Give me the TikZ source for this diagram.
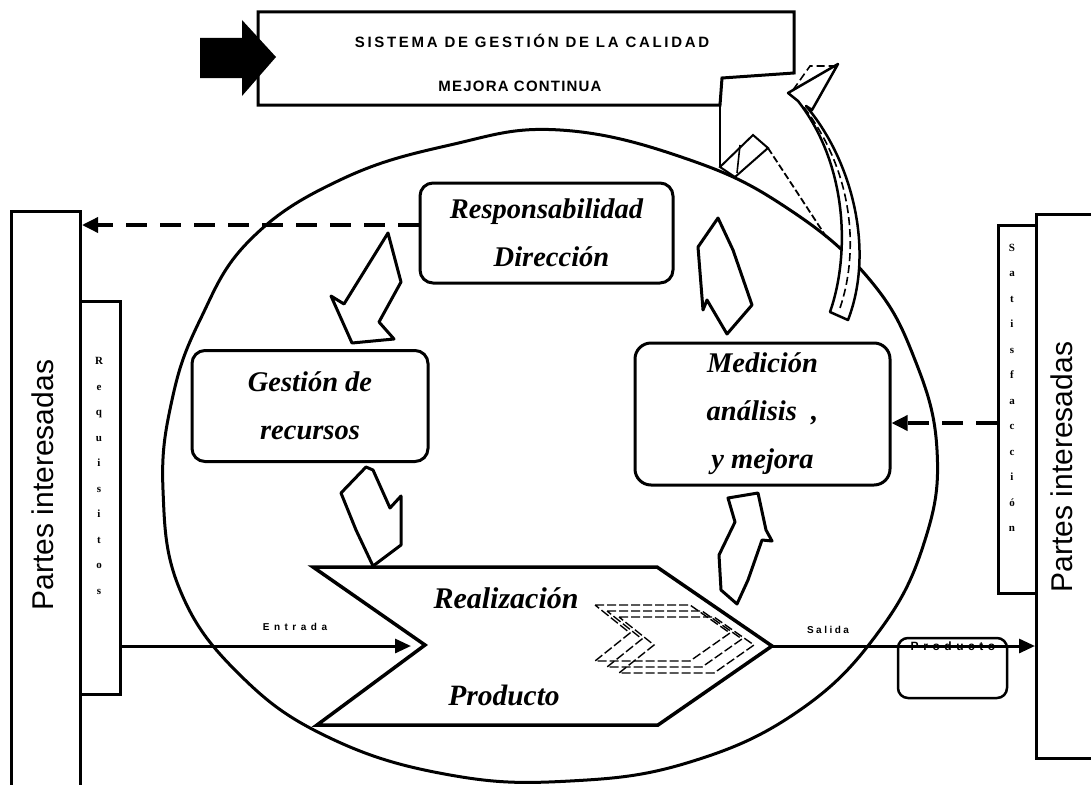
\documentclass[tikz,border=0pt]{standalone}
\usepackage{fontspec}
\setmainfont{Liberation Serif}
\newfontfamily\sansf{Liberation Sans}
\usetikzlibrary{arrows.meta}
\begin{document}
\begin{tikzpicture}[x=1pt,y=-1pt,
  rbox/.style={draw,line width=3pt,rounded corners=13pt,fill=white},
  pbox/.style={draw,line width=3pt,fill=white},
  bitext/.style={font=\fontsize{28.5}{48}\selectfont\bfseries\itshape,align=center},
  stack/.style={font=\fontsize{11}{25.5}\selectfont\bfseries,align=center,inner sep=0pt},
  partes/.style={font=\sansf\fontsize{30}{30}\selectfont,rotate=90,inner sep=0pt},
  solidarrow/.style={line width=3pt,-{Triangle[length=16pt,width=14pt]}},
  dasharrow/.style={line width=3.5pt,dash pattern=on 21pt off 13pt,-{Triangle[length=16pt,width=15pt]}},
  barrow/.style={draw,line width=3pt,fill=white,line join=round}
]
\useasboundingbox (0,0) rectangle (1091,784);
\clip (0,0) rectangle (1091,784);
\fill[white] (0,0) rectangle (1091,784);

% big ellipse
\draw[line width=3pt] plot[smooth cycle,tension=0.7] coordinates {
 (560,130) (690,160) (790,210) (870,280) (915,360) (937,450) (925,540) (880,630)
 (800,710) (690,762) (570,781) (450,775) (330,738) (240,675) (180,590) (163,490)
 (172,400) (200,320) (250,240) (340,180) (450,145)};

% top box
\draw[line width=3pt,fill=white] (258,12) -- (794,12) -- (794,73) -- (722,78) -- (720,105) -- (258,105) -- cycle;
\draw[line width=2.5pt] (720,105) -- (720,167);
\node[font=\sansf\bfseries\fontsize{15}{15}\selectfont\addfontfeature{LetterSpace=18},inner sep=0pt] (sgc) at (532,41) {SISTEMA DE GESTIÓN DE LA CALIDAD};
\node[font=\sansf\bfseries\fontsize{15}{15}\selectfont\addfontfeature{LetterSpace=8},inner sep=0pt] (mc) at (520,86) {MEJORA CONTINUA};
\fill[black] (200,38) -- (242,38) -- (242,20) -- (276,57) -- (242,96) -- (242,78) -- (200,78) -- cycle;

% big curved hollow arrow
\draw[line width=2pt] (720,167) -- (753,135) -- (768,148) -- (735,177) -- cycle;
\draw[line width=1.6pt] (740,145) -- (737,173);
\draw[line width=1.8pt,dash pattern=on 7pt off 3pt] (768,148) -- (827,238);
\draw[barrow,line width=2.5pt] (830,312) .. controls (850,255) and (848,165) .. (798,101) -- (788,93) -- (838,64) -- (812,110) -- (806,106) .. controls (852,160) and (875,250) .. (848,320) -- cycle;
\draw[line width=1.6pt,dash pattern=on 8pt off 4pt] (840,308) .. controls (858,255) and (856,175) .. (803,106);
\draw[line width=1.6pt,dash pattern=on 8pt off 4pt] (793,90) -- (810,66) -- (834,66);

% outer boxes
\node[pbox,minimum width=69pt,minimum height=600pt,anchor=north west] (leftbox) at (10,210) {};
\node[pbox,minimum width=70pt,minimum height=544pt,anchor=north west] (rightbox) at (1035,213) {};
\node[partes] (pl) at (43,485) {Partes interesadas};
\node[partes] (pr) at (1062,467) {Partes interesadas};
\node[pbox,minimum width=40pt,minimum height=393pt,anchor=north west] (req) at (79,300) {};
\node[stack] (reqt) at (99,476) {R\\e\\q\\u\\i\\s\\i\\t\\o\\s};
\node[pbox,minimum width=38pt,minimum height=368pt,anchor=north west] (sat) at (997,224) {};
\node[stack] (satt) at (1012,388) {S\\a\\t\\i\\s\\f\\a\\c\\c\\i\\ó\\n};

% process boxes
\node[rbox,bitext,minimum width=253pt,minimum height=100pt] (resp) at (546.5,233) {Responsabilidad\\\hspace*{10pt}Dirección};
\node[rbox,bitext,minimum width=236pt,minimum height=111pt] (gest) at (310,406) {Gestión de\\recursos};
\node[rbox,bitext,minimum width=255pt,minimum height=142pt,rounded corners=16pt] (med) at (762.5,414) {Medición\\análisis\ \ ,\\y mejora};

% realization chevron
\coordinate (c1) at (313,567);
\coordinate (c2) at (657,567);
\coordinate (ctip) at (772,646);
\coordinate (c4) at (658,725);
\coordinate (c5) at (317,725);
\coordinate (cnotch) at (425,645);
\draw[line width=3.5pt,fill=white,line join=miter] (c1) -- (c2) -- (ctip) -- (c4) -- (c5) -- (cnotch) -- cycle;
\node[font=\fontsize{30}{30}\selectfont\bfseries\itshape] (realt) at (506,598) {Realización};
\node[font=\fontsize{29.5}{30}\selectfont\bfseries\itshape] (prodt) at (504,695) {Producto};
\foreach \i in {0,1,2}{
  \draw[line width=1.4pt,dash pattern=on 9pt off 3pt] (595+12*\i,605+6*\i) -- ++(95,0) -- ++(40,28) -- ++(-40,28) -- ++(-95,0) -- ++(35,-28) -- cycle;
}

% hand-drawn block arrows
\draw[barrow] (388,233) -- (401,282) -- (379,322) -- (394,339) -- (352,343) -- (331,296) -- (344,304) -- cycle;
\draw[barrow] (718,218) -- (733,250) -- (752,305) -- (727,334) -- (707,300) -- (703,310) -- (698,247) -- cycle;
\draw[barrow] (366,467) -- (341,493) -- (356,530) -- (373,566) -- (401,545) -- (401,496) -- (390,508) -- (373,470) -- cycle;
\draw[barrow] (728,498) -- (758,493) -- (766,530) -- (772,541) -- (762,540) -- (748,580) -- (737,604) -- (721,590) -- (719,555) -- (735,522) -- cycle;

% connectors
\coordinate (rl) at ([yshift=8pt]resp.west);
\draw[dasharrow] (rl) -- (rl -| leftbox.east);
\coordinate (mr) at ([yshift=-9pt]med.east);
\draw[dasharrow] (mr -| sat.west) -- (mr);
\coordinate (entend) at (411,646);
\draw[solidarrow] (req.east |- entend) -- (entend);
\node[font=\sansf\bfseries\fontsize{10}{10}\selectfont\addfontfeature{LetterSpace=45},inner sep=0pt] (entl) at (295,627) {Entrada};

\node[rbox,line width=2.5pt,rounded corners=10pt,minimum width=109pt,minimum height=60pt,fill=none] (prodbox) at (952.5,668) {};
\node[font=\sansf\bfseries\fontsize{12}{12}\selectfont\addfontfeature{LetterSpace=38},inner sep=0pt] (prodl) at (953,646) {Producto};
\draw[solidarrow] (ctip) -- (ctip -| rightbox.west);
\node[font=\sansf\bfseries\fontsize{10}{10}\selectfont\addfontfeature{LetterSpace=25},inner sep=0pt] (sall) at (828,630) {Salida};
\end{tikzpicture}
\end{document}
